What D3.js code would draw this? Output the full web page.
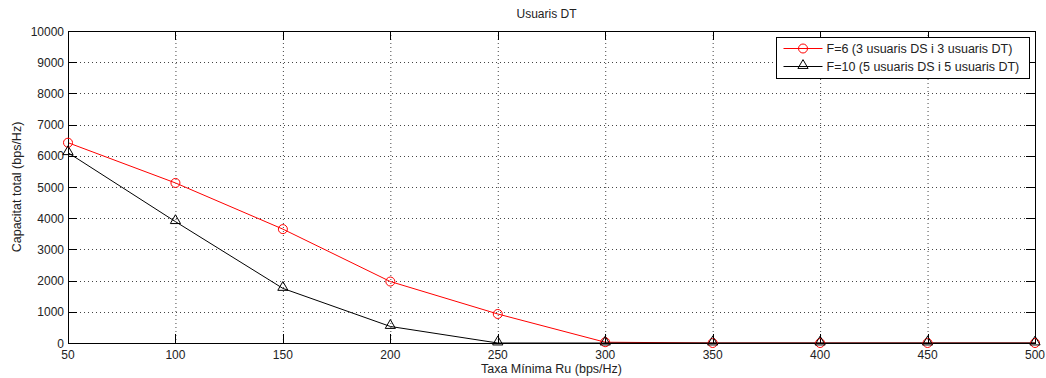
<!DOCTYPE html>
<html lang="ca">
<head>
<meta charset="UTF-8">
<title>Usuaris DT</title>
<script src="https://d3js.org/d3.v7.min.js"></script>
<style>
  body { margin: 0; background: #fff; }
  svg { display: block; font-family: "Liberation Sans", Arial, sans-serif; }
  .grid line { stroke: #444; stroke-dasharray: 1 3; stroke-width: 1; }
</style>
</head>
<body>
<div id="chart"></div>
<script>
// Minimum rate Ru (bps/Hz)
const rates = [50, 100, 150, 200, 250, 300, 350, 400, 450, 500];
// Total capacity for each configuration
const capF6 = [6420, 5130, 3650, 1970, 930, 25, 0, 0, 0, 0];
const capF10 = [6100, 3890, 1750, 530, 0, 0, 0, 0, 0, 0];
const seriesNames = ["F=6 (3 usuaris DS i 3 usuaris DT)", "F=10 (5 usuaris DS i 5 usuaris DT)"];
const xTicks = [50, 100, 150, 200, 250, 300, 350, 400, 450, 500];
const yTicks = [0, 1000, 2000, 3000, 4000, 5000, 6000, 7000, 8000, 9000, 10000];

const width = 1046, height = 378;
const margin = {top: 31, right: 11, bottom: 35, left: 68};
const iw = width - margin.left - margin.right;
const ih = height - margin.top - margin.bottom;

const svg = d3.select("#chart").append("svg")
  .attr("width", width).attr("height", height);

const x = d3.scaleLinear().domain([50, 500]).range([0, iw]);
const y = d3.scaleLinear().domain([0, 10000]).range([ih, 0]);

const g = svg.append("g").attr("transform", `translate(${margin.left},${margin.top})`);

// dotted grid
const grid = g.append("g").attr("class", "grid");
grid.selectAll(".gx").data(xTicks.slice(1, -1)).enter().append("line")
  .attr("x1", d => x(d) + 0.5).attr("x2", d => x(d) + 0.5)
  .attr("y1", 0).attr("y2", ih);
grid.selectAll(".gy").data(yTicks.slice(1, -1)).enter().append("line")
  .attr("y1", d => Math.round(y(d)) + 0.5).attr("y2", d => Math.round(y(d)) + 0.5)
  .attr("x1", 0).attr("x2", iw);

// series
const line = d3.line().x((d, i) => x(rates[i])).y(d => y(d));
const series = [
  {name: seriesNames[0], vals: capF6, color: "#ff0000", marker: "circle"},
  {name: seriesNames[1], vals: capF10, color: "#000000", marker: "triangle"}
];

function drawMarker(sel, s, cx, cy) {
  if (s.marker === "circle") {
    sel.append("circle").attr("cx", cx).attr("cy", cy).attr("r", 4.5)
      .attr("fill", "none").attr("stroke", s.color).attr("stroke-width", 1);
  } else {
    sel.append("path")
      .attr("d", d3.symbol().type(d3.symbolTriangle).size(45)())
      .attr("transform", `translate(${cx},${cy - 1})`)
      .attr("fill", "none").attr("stroke", s.color).attr("stroke-width", 1);
  }
}

series.forEach(s => {
  g.append("path").datum(s.vals)
    .attr("d", line)
    .attr("fill", "none").attr("stroke", s.color).attr("stroke-width", 1);
});

// axes box with inward ticks on all sides
const axisG = g.append("g");
axisG.append("rect").attr("x", 0.5).attr("y", 0.5).attr("width", iw).attr("height", ih)
  .attr("fill", "none").attr("stroke", "#000");
const tl = 9;
xTicks.forEach(t => {
  const px = Math.round(x(t)) + 0.5;
  axisG.append("line").attr("x1", px).attr("x2", px).attr("y1", ih).attr("y2", ih - tl).attr("stroke", "#000");
  axisG.append("line").attr("x1", px).attr("x2", px).attr("y1", 0).attr("y2", tl).attr("stroke", "#000");
  axisG.append("text").attr("x", x(t)).attr("y", ih + 16).attr("text-anchor", "middle")
    .attr("font-size", 12).attr("fill", "#222").text(t);
});
yTicks.forEach(t => {
  const py = Math.round(y(t)) + 0.5;
  axisG.append("line").attr("x1", 0).attr("x2", tl).attr("y1", py).attr("y2", py).attr("stroke", "#000");
  axisG.append("line").attr("x1", iw).attr("x2", iw - tl).attr("y1", py).attr("y2", py).attr("stroke", "#000");
  axisG.append("text").attr("x", -4).attr("y", y(t) + 4.5).attr("text-anchor", "end")
    .attr("font-size", 12).attr("fill", "#222").text(t);
});

// markers on top
series.forEach(s => {
  const mg = g.append("g");
  s.vals.forEach((v, i) => drawMarker(mg, s, x(rates[i]), y(v)));
});

// titles
svg.append("text").attr("x", margin.left + iw / 2 - 5).attr("y", 18).attr("text-anchor", "middle")
  .attr("font-size", 12).attr("fill", "#222").text("Usuaris DT");
svg.append("text").attr("x", margin.left + iw / 2).attr("y", 373).attr("text-anchor", "middle")
  .attr("font-size", 12.5).attr("fill", "#222").text("Taxa Mínima Ru (bps/Hz)");
svg.append("text").attr("transform", `translate(21,${margin.top + ih / 2}) rotate(-90)`)
  .attr("text-anchor", "middle").attr("font-size", 12.5).attr("fill", "#222").text("Capacitat total (bps/Hz)");

// legend
const lg = svg.append("g").attr("transform", "translate(776.5,37.5)");
lg.append("rect").attr("width", 253).attr("height", 41).attr("fill", "#fff").attr("stroke", "#000");
series.forEach((s, i) => {
  const ly = 11 + i * 18;
  lg.append("line").attr("x1", 7).attr("x2", 46).attr("y1", ly).attr("y2", ly)
    .attr("stroke", s.color);
  drawMarker(lg, s, 26.5, ly);
  lg.append("text").attr("x", 50).attr("y", ly + 4.5).attr("font-size", 12.5).attr("fill", "#222").text(s.name);
});
</script>
</body>
</html>
